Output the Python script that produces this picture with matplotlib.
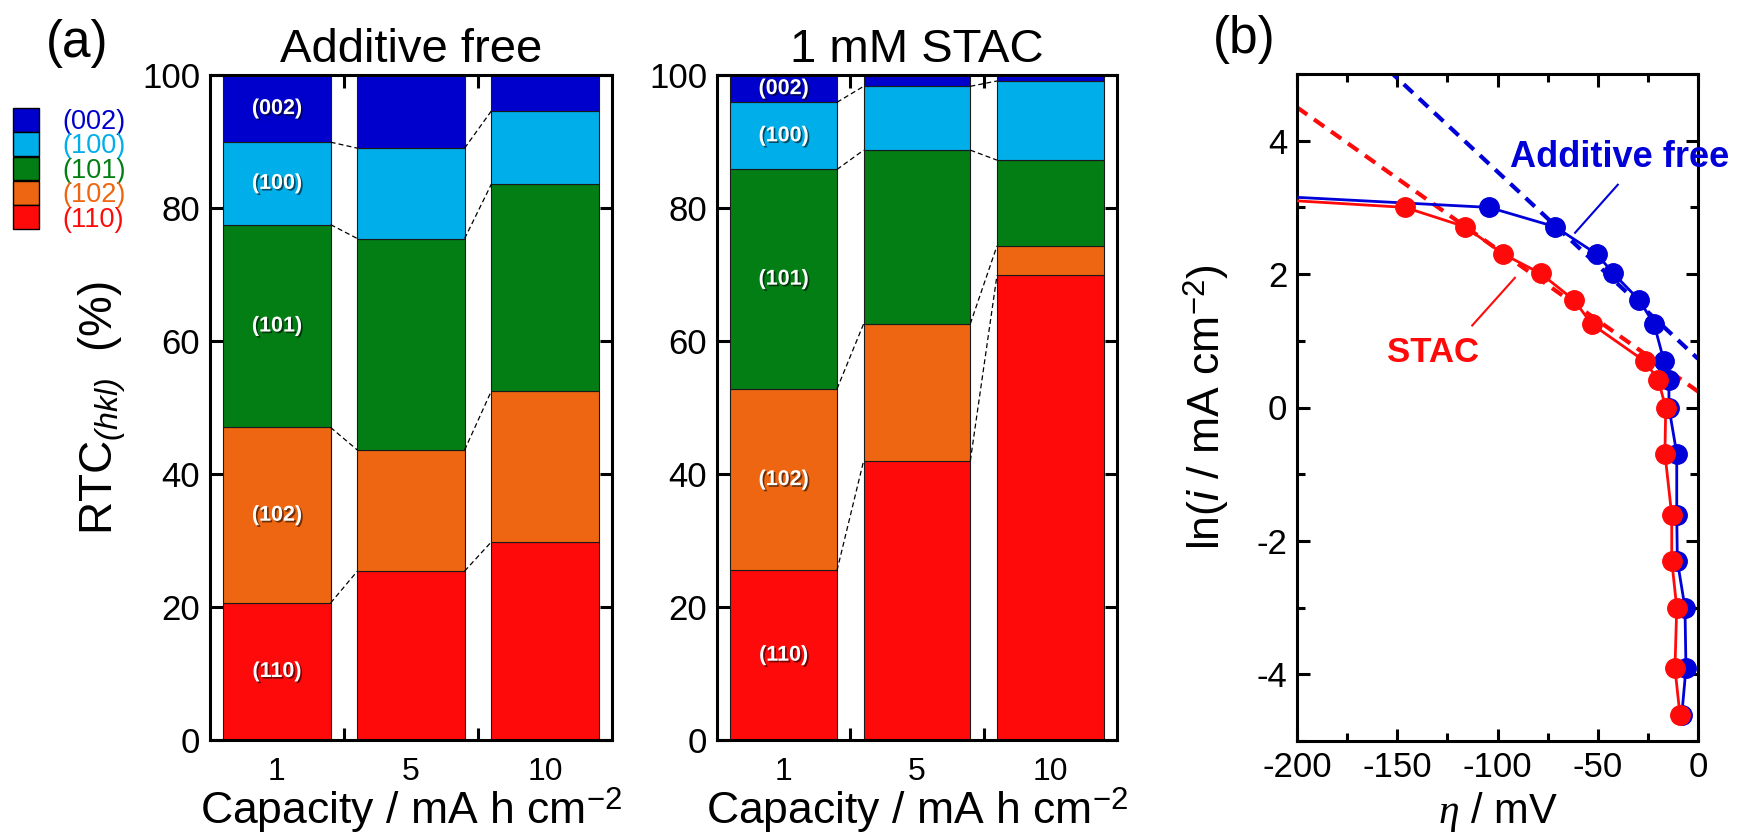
import matplotlib
matplotlib.use("Agg")
import matplotlib.pyplot as plt
import matplotlib.patheffects as pe
from matplotlib.patches import Patch
from matplotlib.ticker import MultipleLocator
import numpy as np

plt.rcParams['font.family'] = ['Liberation Sans', 'DejaVu Sans']
plt.rcParams['mathtext.fontset'] = 'custom'
plt.rcParams['mathtext.rm'] = 'Liberation Sans'
plt.rcParams['mathtext.it'] = 'Liberation Serif:italic'
plt.rcParams['mathtext.sf'] = 'Liberation Sans:italic'
plt.rcParams['axes.unicode_minus'] = False

# ---------------- data ----------------
capacities = ['1', '5', '10']
planes = ['(002)', '(100)', '(101)', '(102)', '(110)']

# relative texture coefficients (%), additive-free electrolyte
free_110 = [20.6, 25.4, 29.8]
free_102 = [26.4, 18.2, 22.7]
free_101 = [30.5, 31.8, 31.1]
free_100 = [12.4, 13.6, 11.0]
free_002 = [10.1, 11.0, 5.4]

# relative texture coefficients (%), 1 mM STAC
stac_110 = [25.5, 42.0, 69.9]
stac_102 = [27.3, 20.6, 4.4]
stac_101 = [33.0, 26.1, 12.9]
stac_100 = [10.1, 9.6, 11.9]
stac_002 = [4.1, 1.7, 0.9]

# Tafel data: ln(i) levels and overpotentials (mV)
ln_i = [3.22, 3.00, 2.71, 2.30, 2.01, 1.61, 1.25, 0.69, 0.41, 0.00,
        -0.69, -1.61, -2.30, -3.00, -3.91, -4.61]
eta_free = [-244, -104.2, -71.3, -50.5, -42.2, -29.3, -21.9, -16.9, -14.5, -14.5,
            -10.6, -10.6, -10.3, -6.5, -6.0, -8.1]
eta_stac = [-267, -146.1, -116.2, -97.1, -78.5, -61.8, -53.0, -26.4, -19.8, -16.1,
            -16.5, -13.1, -13.1, -10.6, -11.5, -9.0]

# linear Tafel fits (end points)
fit_eta = [-200, 0]
fit_free = [6.34, 0.73]
fit_stac = [4.50, 0.24]

# ---------------- styling ----------------
plane_colors = {'(002)': '#0000CC', '(100)': '#00AEEA', '(101)': '#027E14',
                '(102)': '#EE6611', '(110)': '#FF0A0A'}
blue = '#0000D8'
red = '#FF0A0A'
SPW = 2.2

fig = plt.figure(figsize=(17.47, 8.33), dpi=100)
W, H = 1747, 833


def px_axes(l, r, t, b):
    return fig.add_axes([l / W, (H - b) / H, (r - l) / W, (b - t) / H])


def draw_stack(ax, series, title, annotate):
    stack_order = ['(110)', '(102)', '(101)', '(100)', '(002)']
    x = np.arange(len(capacities))
    bottom = np.zeros(len(capacities))
    tops = []
    width = 0.8
    for name in stack_order:
        vals = np.array(series[name])
        ax.bar(x, vals, width=width, bottom=bottom, color=plane_colors[name],
               edgecolor='#1a1a1a', linewidth=0.8, zorder=2)
        if annotate:
            ax.text(x[0], bottom[0] + vals[0] / 2, name, color='white',
                    fontsize=15.5, fontweight='bold', ha='center', va='center',
                    zorder=4,
                    path_effects=[pe.SimplePatchShadow(offset=(1.2, -1.2),
                                                       shadow_rgbFace='black',
                                                       alpha=0.55),
                                  pe.Normal()])
        bottom = bottom + vals
        tops.append(bottom.copy())
    # dashed connectors between neighbouring bars at each internal boundary
    for lev in tops[:-1]:
        for i in range(len(capacities) - 1):
            ax.plot([x[i] + width / 2, x[i + 1] - width / 2], [lev[i], lev[i + 1]],
                    color='black', lw=0.9, ls=(0, (4, 2.5)), zorder=3)

    ax.set_xlim(-0.5, 2.5)
    ax.set_ylim(0, 100)
    ax.set_xticks([0.5, 1.5])
    ax.set_xticklabels([])
    ax.set_xticks(x, minor=True)
    ax.set_xticklabels(capacities, minor=True, fontsize=23)
    ax.tick_params(axis='x', which='minor', length=0, pad=12)
    ax.tick_params(axis='x', which='major', direction='in', length=9,
                   width=SPW, top=True, bottom=True)
    ax.set_yticks([0, 20, 40, 60, 80, 100])
    ax.tick_params(axis='y', which='major', direction='in', length=9, width=SPW,
                   left=True, right=True, labelsize=25, pad=7)
    for s in ax.spines.values():
        s.set_linewidth(SPW)
    ax.set_title(title, fontsize=34, pad=9)
    ax.set_xlabel(r'Capacity / mA h cm$^{-2}$', fontsize=32, va='baseline')
    ax.xaxis.set_label_coords(0.5, -0.126)


ax1 = px_axes(210, 612, 75, 740)
ax2 = px_axes(717, 1117, 75, 740)
ax3 = px_axes(1297, 1698, 74, 741)

draw_stack(ax1, {'(110)': free_110, '(102)': free_102, '(101)': free_101,
                 '(100)': free_100, '(002)': free_002}, 'Additive free', True)
draw_stack(ax2, {'(110)': stac_110, '(102)': stac_102, '(101)': stac_101,
                 '(100)': stac_100, '(002)': stac_002}, '1 mM STAC', True)

ax1.set_ylabel(r'RTC$_{\mathsf{(hkl)}}$  (%)', fontsize=33)
ax1.yaxis.set_label_coords(-0.204, 0.5)

# plane legend
handles = [Patch(facecolor=plane_colors[p], edgecolor='black', linewidth=1.0)
           for p in planes]
fig.legend(handles, planes, loc='upper left',
           bbox_to_anchor=(13 / W, 1 - 108 / H), frameon=False,
           fontsize=19.5, handlelength=0.96, handleheight=0.96,
           handletextpad=0.85, labelspacing=-0.1, borderpad=0,
           borderaxespad=0,
           labelcolor=[plane_colors[p] for p in planes])

# ---------------- Tafel panel ----------------
ax3.plot(fit_eta, fit_free, color=blue, lw=3, ls=(0, (3, 2)), zorder=2)
ax3.plot(fit_eta, fit_stac, color=red, lw=3, ls=(0, (3, 2)), zorder=2)
ax3.plot(eta_free, ln_i, color=blue, lw=2, marker='o', ms=14, zorder=3)
ax3.plot(eta_stac, ln_i, color=red, lw=2, marker='o', ms=14, zorder=4)

ax3.plot([-40.0, -61.3], [3.34, 2.62], color=blue, lw=1.5, zorder=3)
ax3.plot([-91.3, -112.6], [1.945, 1.23], color=red, lw=1.5, zorder=3)
ax3.text(-93.8, 3.60, 'Additive free', color=blue, fontsize=26,
         fontweight='bold', ha='left', va='baseline', clip_on=False)
ax3.text(-155.3, 0.68, 'STAC', color=red, fontsize=25, fontweight='bold',
         ha='left', va='baseline')

ax3.set_xlim(-200, 0)
ax3.set_ylim(-5, 5)
ax3.xaxis.set_major_locator(MultipleLocator(50))
ax3.xaxis.set_minor_locator(MultipleLocator(25))
ax3.yaxis.set_major_locator(MultipleLocator(2))
ax3.yaxis.set_minor_locator(MultipleLocator(1))
ax3.tick_params(which='major', direction='in', length=9, width=SPW,
                top=True, right=True, labelsize=25, pad=7)
ax3.tick_params(which='minor', direction='in', length=5.5, width=SPW,
                top=True, right=True)
for s in ax3.spines.values():
    s.set_linewidth(SPW)
ax3.set_xlabel(r'$\eta$ / mV', fontsize=30, va='baseline')
ax3.xaxis.set_label_coords(0.5, -0.123)
ax3.set_ylabel(r'ln($\mathsf{i}$ / mA cm$^{-2}$)', fontsize=32)
ax3.yaxis.set_label_coords(-0.165, 0.5)

fig.text(77 / W, 1 - 43 / H, '(a)', fontsize=37, ha='center', va='center')
fig.text(1244 / W, 1 - 40 / H, '(b)', fontsize=37, ha='center', va='center')

fig.savefig('out.png', dpi=100)
